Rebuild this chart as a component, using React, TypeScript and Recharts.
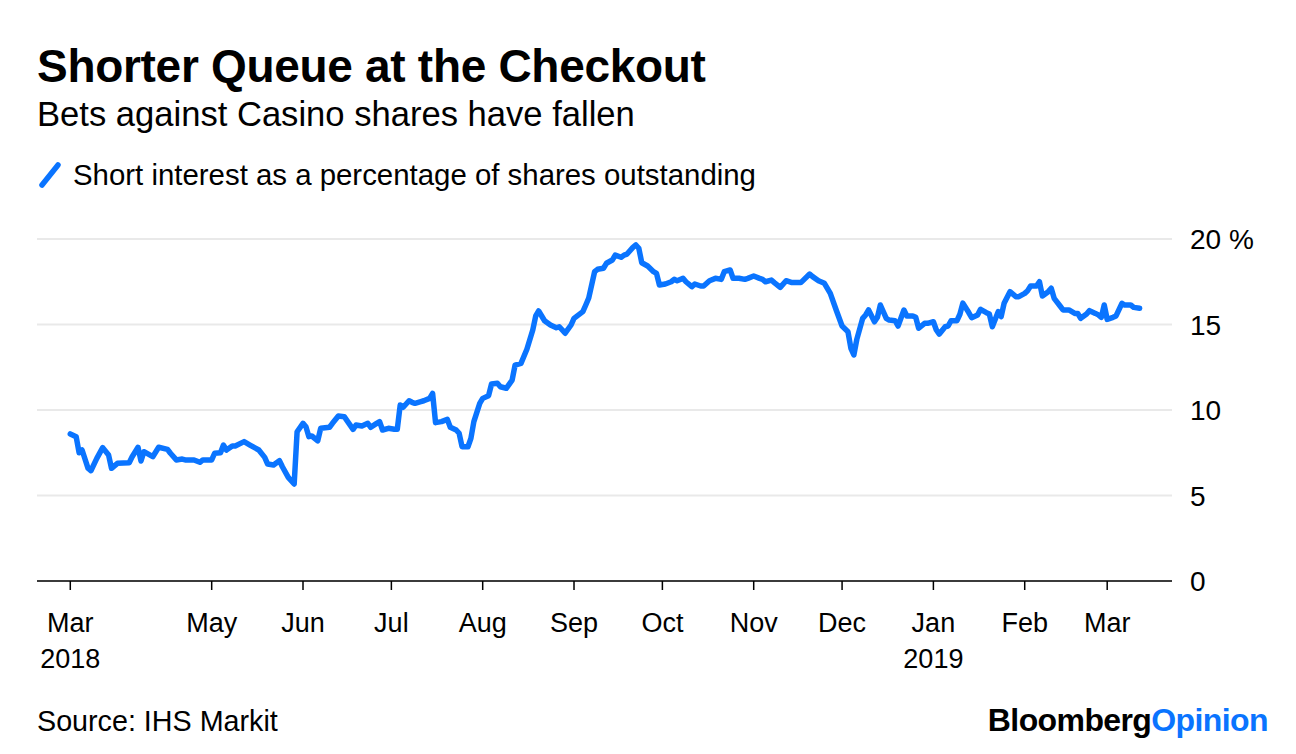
import { LineChart, Line, XAxis, YAxis, CartesianGrid } from 'recharts';

// days counted from 1 Mar 2018
const DAYS = [
  13, 15, 16, 17, 19, 20, 22, 24, 26, 27, 29, 33, 34, 36, 37, 38, 41, 43, 46, 47,
  49, 51, 52, 55, 57, 58, 61, 62, 64, 65, 66, 68, 69, 72, 74, 77, 79, 80, 82, 84,
  85, 87, 89, 90, 92, 93, 94, 95, 97, 98, 101, 102, 104, 106, 107, 109, 110, 112, 114, 115,
  117, 118, 119, 121, 123, 124, 125, 126, 128, 129, 130, 132, 133, 135, 136, 137, 139, 141, 142, 144,
  145, 146, 148, 149, 150, 152, 153, 155, 156, 158, 159, 161, 163, 164, 166, 168, 170, 171, 172, 174,
  176, 178, 179, 181, 183, 184, 187, 188, 189, 191, 192, 194, 195, 197, 198, 200, 201, 202, 204, 205,
  206, 207, 209, 211, 212, 213, 215, 217, 218, 219, 221, 222, 224, 225, 227, 228, 230, 232, 234, 235,
  237, 238, 240, 242, 243, 245, 247, 248, 249, 251, 252, 254, 256, 258, 261, 264, 265, 267, 269, 271,
  273, 275, 277, 278, 279, 280, 282, 283, 284, 286, 287, 288, 290, 291, 293, 294, 296, 297, 299, 300,
  301, 303, 304, 306, 307, 308, 310, 311, 312, 314, 315, 316, 318, 319, 321, 322, 324, 325, 326, 328,
  329, 330, 332, 334, 335, 337, 338, 339, 341, 342, 343, 345, 346, 347, 349, 350, 352, 354, 355, 356,
  358, 359, 361, 362, 363, 364, 365, 367, 368, 370, 371, 373, 374, 376,
];

const SHORT_INTEREST = [
  8.6, 8.44, 7.5, 7.66, 6.6, 6.45, 7.17, 7.8, 7.37, 6.59, 6.88, 6.92, 7.27, 7.82, 7.02, 7.56, 7.27, 7.82, 7.7, 7.47,
  7.08, 7.13, 7.08, 7.08, 6.94, 7.08, 7.08, 7.47, 7.5, 7.95, 7.66, 7.9, 7.9, 8.15, 7.95, 7.66, 7.23, 6.84, 6.78, 7.04,
  6.68, 6.06, 5.67, 8.73, 9.22, 9.02, 8.44, 8.48, 8.2, 8.93, 8.99, 9.22, 9.65, 9.61, 9.37, 8.87, 9.12, 9.06, 9.22, 8.99,
  9.22, 9.32, 8.83, 8.93, 8.87, 8.87, 10.29, 10.16, 10.54, 10.45, 10.39, 10.49, 10.54, 10.68, 10.97, 9.26, 9.32, 9.45, 8.99, 8.83,
  8.64, 7.85, 7.85, 8.34, 9.32, 10.39, 10.68, 10.84, 11.52, 11.56, 11.36, 11.27, 11.75, 12.63, 12.73, 13.55, 14.68, 15.5, 15.79, 15.22,
  14.97, 14.81, 14.87, 14.49, 14.97, 15.36, 15.75, 16.14, 16.55, 18.09, 18.23, 18.29, 18.58, 18.77, 19.06, 18.93, 19.06, 19.12, 19.51, 19.65,
  19.46, 18.61, 18.42, 18.09, 17.99, 17.31, 17.37, 17.5, 17.64, 17.56, 17.7, 17.5, 17.21, 17.37, 17.25, 17.25, 17.56, 17.7, 17.64, 18.09,
  18.19, 17.7, 17.7, 17.64, 17.7, 17.84, 17.7, 17.64, 17.5, 17.6, 17.45, 17.17, 17.56, 17.45, 17.45, 17.95, 17.8, 17.56, 17.41, 16.82,
  15.85, 14.91, 14.58, 13.61, 13.22, 14.13, 15.36, 15.56, 15.85, 15.16, 15.42, 16.14, 15.36, 15.26, 15.22, 14.91, 15.85, 15.5, 15.5, 15.42,
  14.78, 15.07, 15.07, 15.16, 14.68, 14.44, 14.87, 14.91, 15.22, 15.22, 15.6, 16.25, 15.7, 15.4, 15.56, 15.89, 15.69, 15.61, 14.87, 15.75,
  15.46, 16.24, 16.92, 16.63, 16.63, 16.82, 16.98, 17.25, 17.25, 17.5, 16.67, 16.92, 17.12, 16.53, 16.08, 15.85, 15.85, 15.65, 15.65, 15.36,
  15.61, 15.81, 15.65, 15.56, 15.42, 16.14, 15.3, 15.42, 15.5, 16.24, 16.14, 16.14, 16.0, 15.95,
];

const TICK_DAYS = [13, 61, 92, 122, 153, 184, 214, 245, 275, 306, 337, 365];
const TICK_MONTHS = ['Mar', 'May', 'Jun', 'Jul', 'Aug', 'Sep', 'Oct', 'Nov', 'Dec', 'Jan', 'Feb', 'Mar'];
const TICK_YEARS = ['2018', '', '', '', '', '', '', '', '', '2019', '', ''];

const Y_TICKS = [0, 5, 10, 15, 20];

const BLUE = '#0a74ff';
const FONT = '"Liberation Sans", Arial, Helvetica, sans-serif';

const data = DAYS.map((d, i) => ({ day: d, value: SHORT_INTEREST[i] }));

const MonthTick = (props: any) => {
  const { x, y, payload } = props;
  const i = TICK_DAYS.indexOf(payload.value);
  return (
    <g>
      <text x={x} y={y + 40} textAnchor="middle" fontSize={27} fill="#000" fontFamily={FONT}>
        {TICK_MONTHS[i]}
      </text>
      {TICK_YEARS[i] && (
        <text x={x} y={y + 76} textAnchor="middle" fontSize={27} fill="#000" fontFamily={FONT}>
          {TICK_YEARS[i]}
        </text>
      )}
    </g>
  );
};

const ValueTick = (props: any) => {
  const { x, y, payload } = props;
  return (
    <text x={x} y={y} dy="0.36em" textAnchor="start" fontSize={28} fill="#000" fontFamily={FONT}>
      {payload.value === 20 ? '20 %' : payload.value}
    </text>
  );
};

export default function App() {
  return (
    <div style={{ position: 'absolute', left: 0, top: 0, width: 1296, height: 754, background: '#fff', fontFamily: FONT, color: '#000' }}>
      <div style={{ position: 'absolute', left: 37, top: 43, fontSize: 46, lineHeight: '46px', fontWeight: 700, letterSpacing: -0.3, whiteSpace: 'nowrap' }}>
        Shorter Queue at the Checkout
      </div>
      <div style={{ position: 'absolute', left: 37, top: 97, fontSize: 34.6, lineHeight: '34px', whiteSpace: 'nowrap' }}>
        Bets against Casino shares have fallen
      </div>
      <div style={{ position: 'absolute', left: 37, top: 160, height: 30, display: 'flex', alignItems: 'center', whiteSpace: 'nowrap' }}>
        <svg width={30} height={30} style={{ marginRight: 6 }}>
          <line x1={5} y1={25} x2={21} y2={5} stroke={BLUE} strokeWidth={5.5} strokeLinecap="round" />
        </svg>
        <span style={{ fontSize: 29.4, lineHeight: '30px' }}>Short interest as a percentage of shares outstanding</span>
      </div>

      <div style={{ position: 'absolute', left: 0, top: 0 }}>
        <LineChart width={1296} height={754} data={data} margin={{ top: 239, right: 0, left: 37, bottom: 0 }}>
          <CartesianGrid vertical={false} stroke="#e9e9e9" strokeWidth={2} />
          <XAxis
            dataKey="day"
            type="number"
            domain={[1.7, 387]}
            ticks={TICK_DAYS}
            height={173}
            axisLine={{ stroke: '#000', strokeWidth: 1.5 }}
            tickLine={{ stroke: '#000', strokeWidth: 1.5 }}
            tickSize={9}
            tick={<MonthTick />}
            interval={0}
          />
          <YAxis
            orientation="right"
            domain={[0, 20]}
            ticks={Y_TICKS}
            width={124}
            axisLine={false}
            tickLine={false}
            tickSize={0}
            tickMargin={18}
            tick={<ValueTick />}
          />
          <Line
            type="linear"
            dataKey="value"
            stroke={BLUE}
            strokeWidth={5.5}
            strokeLinejoin="round"
            strokeLinecap="round"
            dot={false}
            isAnimationActive={false}
          />
        </LineChart>
      </div>

      <div style={{ position: 'absolute', left: 37, top: 707, fontSize: 28.7, lineHeight: '28px', whiteSpace: 'nowrap' }}>
        Source: IHS Markit
      </div>
      <div style={{ position: 'absolute', right: 28, top: 704, fontSize: 32, lineHeight: '32px', fontWeight: 700, letterSpacing: -0.6, whiteSpace: 'nowrap' }}>
        Bloomberg<span style={{ color: BLUE }}>Opinion</span>
      </div>
    </div>
  );
}
